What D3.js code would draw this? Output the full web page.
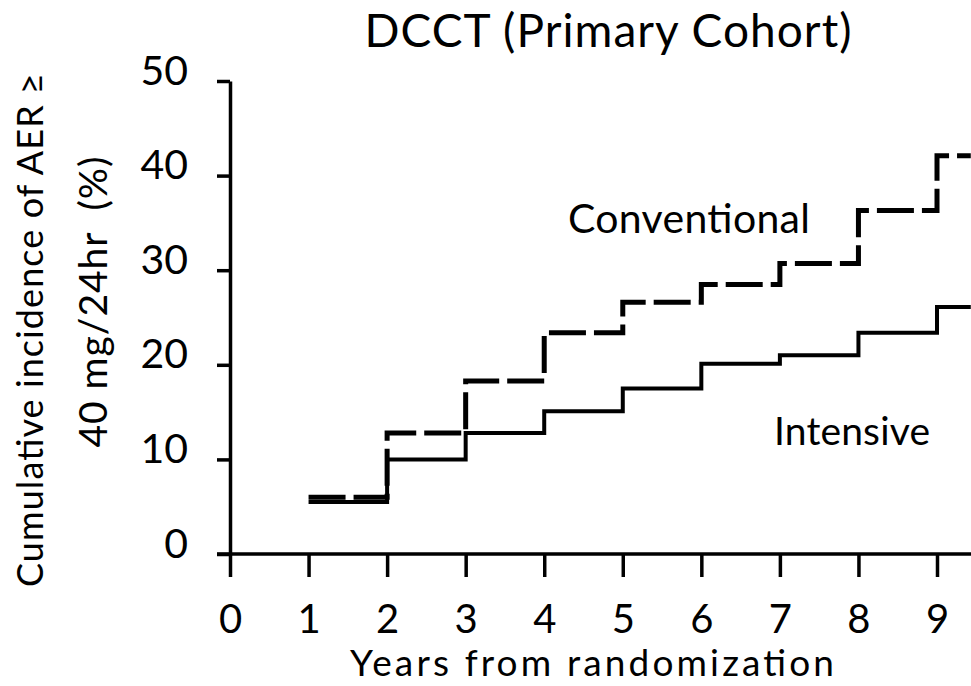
<!DOCTYPE html>
<html>
<head>
<meta charset="utf-8">
<script src="https://cdn.jsdelivr.net/npm/d3@7"></script>
<style>
  body { margin: 0; background: #fff; }
  text { font-family: Lato, "Noto Sans", sans-serif; fill: #000; }
</style>
</head>
<body>
<div id="chart"></div>
<script>
// step points: value holds from this year until the next one
const years = [1, 2, 3, 4, 5, 6, 7, 8, 9];
const conventional = [6.0, 12.8, 18.3, 23.4, 26.6, 28.5, 30.7, 36.3, 42.1];
const intensive = [5.5, 10.0, 12.8, 15.1, 17.5, 20.1, 21.0, 23.4, 26.1];
const xTicks = [0, 1, 2, 3, 4, 5, 6, 7, 8, 9];
const yTicks = [0, 10, 20, 30, 40, 50];
const lastYear = 9.43; // lines run on to the right edge

const W = 971, H = 686;
const margin = { top: 81, right: 34, bottom: 132, left: 230 };

const svg = d3.select("#chart")
    .append("svg")
    .attr("width", W)
    .attr("height", H);

const x = d3.scaleLinear()
    .domain([0, 9])
    .range([margin.left, W - margin.right]);

const y = d3.scaleLinear()
    .domain([0, 50])
    .range([H - margin.bottom, margin.top]);

// x axis
const gx = svg.append("g")
    .attr("transform", `translate(0,${y(0)})`)
    .call(d3.axisBottom(x).tickValues(xTicks).tickSize(23).tickSizeOuter(0));
gx.select(".domain").attr("d", `M${x(0) - 13},0H${W}`);
gx.selectAll("line, .domain").attr("stroke", "#000").attr("stroke-width", 3.5);
gx.selectAll("text")
    .attr("y", 79)
    .attr("dy", null)
    .attr("font-size", 40)
    .style("font-family", "Lato, sans-serif");

// y axis
const gy = svg.append("g")
    .attr("transform", `translate(${x(0)},0)`)
    .call(d3.axisLeft(y).tickValues(yTicks).tickSize(13).tickSizeOuter(0));
gy.selectAll("line, .domain").attr("stroke", "#000").attr("stroke-width", 3.5);
gy.selectAll("text")
    .attr("font-size", 41)
    .attr("x", -42)
    .attr("y", -10)
    .style("font-family", "Lato, sans-serif");

const line = d3.line()
    .x(d => x(d[0]))
    .y(d => y(d[1]))
    .curve(d3.curveStepAfter);

const intPts = years.map((yr, i) => [yr, intensive[i]]).concat([[lastYear, intensive[intensive.length - 1]]]);
const convPts = years.map((yr, i) => [yr, conventional[i]]).concat([[lastYear, conventional[conventional.length - 1]]]);

svg.append("path")
    .datum(intPts)
    .attr("fill", "none")
    .attr("stroke", "#000")
    .attr("stroke-width", 4)
    .attr("d", line);

svg.append("path")
    .datum(convPts)
    .attr("fill", "none")
    .attr("stroke", "#000")
    .attr("stroke-width", 5)
    .attr("stroke-dasharray", "37,8")
    .attr("d", line);

// labels
svg.append("text")
    .attr("x", 608).attr("y", 47)
    .attr("text-anchor", "middle")
    .attr("font-size", 46)
    .attr("textLength", 487)
    .text("DCCT (Primary Cohort)");

svg.append("text")
    .attr("x", 689).attr("y", 233)
    .attr("text-anchor", "middle")
    .attr("font-size", 41)
    .attr("textLength", 242)
    .text("Conventional");

svg.append("text")
    .attr("x", 852).attr("y", 445)
    .attr("text-anchor", "middle")
    .attr("font-size", 39)
    .attr("textLength", 156)
    .text("Intensive");

svg.append("text")
    .attr("x", 592).attr("y", 676)
    .attr("text-anchor", "middle")
    .attr("font-size", 37)
    .attr("textLength", 484)
    .text("Years from randomization");

svg.append("text")
    .attr("transform", "translate(43,330) rotate(-90)")
    .attr("text-anchor", "middle")
    .attr("font-size", 36)
    .attr("textLength", 514)
    .text("Cumulative incidence of AER ≥");

svg.append("text")
    .attr("transform", "translate(107,302) rotate(-90)")
    .attr("text-anchor", "middle")
    .attr("font-size", 39)
    .attr("textLength", 291)
    .style("white-space", "pre")
    .text("40 mg/24hr  (%)");
</script>
</body>
</html>
